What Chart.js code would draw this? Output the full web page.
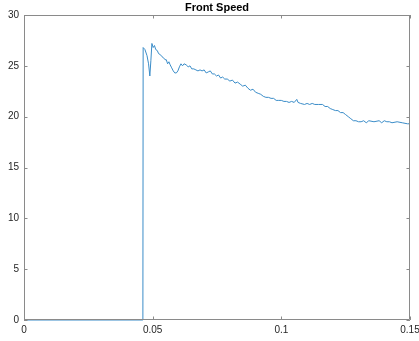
<!DOCTYPE html>
<html>
<head>
<meta charset="utf-8">
<script src="https://cdn.jsdelivr.net/npm/chart.js@4/dist/chart.umd.min.js"></script>
<style>
  html, body { margin: 0; padding: 0; background: #fff; }
  #wrap { width: 419px; height: 341px; }
</style>
</head>
<body>
<div id="wrap"><canvas id="chart" width="419" height="341"></canvas></div>
<script>
// time axis (s)
const timeX = [
  0, 0.0462, 0.0463, 0.0470, 0.0478, 0.0484, 0.0489, 0.0493, 0.0497, 0.0502,
  0.0507, 0.0512, 0.0518, 0.0523, 0.0530, 0.0536, 0.0542, 0.0548, 0.0553, 0.0558,
  0.0563, 0.0568, 0.0574, 0.0580, 0.0586, 0.0592, 0.0598, 0.0604, 0.0610, 0.0616,
  0.0622, 0.0630, 0.0638, 0.0645, 0.0652, 0.0660, 0.0668, 0.0676, 0.0684, 0.0692,
  0.0700, 0.0708, 0.0716, 0.0724, 0.0732, 0.0740, 0.0748, 0.0756, 0.0764, 0.0772,
  0.0780, 0.0790, 0.0800, 0.0810, 0.0820, 0.0830, 0.0840, 0.0850, 0.0860, 0.0870,
  0.0880, 0.0890, 0.0900, 0.0910, 0.0920, 0.0930, 0.0940, 0.0950, 0.0960, 0.0970,
  0.0980, 0.0990, 0.1000, 0.1010, 0.1020, 0.1030, 0.1040, 0.1050, 0.1060, 0.1065,
  0.1075, 0.1090, 0.1100, 0.1110, 0.1120, 0.1130, 0.1145, 0.1160, 0.1170, 0.1180,
  0.1190, 0.1200, 0.1210, 0.1220, 0.1230, 0.1240, 0.1250, 0.1260, 0.1270, 0.1280,
  0.1290, 0.1300, 0.1310, 0.1320, 0.1330, 0.1340, 0.1360, 0.1380, 0.1390, 0.1400,
  0.1410, 0.1420, 0.1430, 0.1450, 0.1470, 0.1490, 0.1500
]
// front speed values
const speedY = [
  0, 0, 26.8, 26.6, 26.0, 25.2, 24.0, 25.5, 27.2, 26.8,
  27.0, 26.6, 26.5, 26.2, 26.1, 25.9, 25.8, 25.6, 25.6, 25.2,
  25.4, 25.1, 24.8, 24.5, 24.3, 24.3, 24.5, 24.9, 25.2, 25.0,
  25.2, 25.1, 24.9, 25.0, 24.7, 24.7, 24.6, 24.5, 24.6, 24.5,
  24.6, 24.3, 24.4, 24.5, 24.2, 24.2, 24.0, 24.1, 23.8, 23.9,
  23.7, 23.7, 23.5, 23.6, 23.3, 23.4, 23.2, 23.0, 23.1, 22.8,
  22.6, 22.7, 22.4, 22.3, 22.2, 22.0, 21.9, 21.9, 21.8, 21.8,
  21.6, 21.6, 21.6, 21.5, 21.5, 21.4, 21.5, 21.4, 21.7, 21.4,
  21.3, 21.2, 21.3, 21.2, 21.3, 21.2, 21.2, 21.2, 21.0, 21.0,
  20.8, 20.7, 20.6, 20.6, 20.4, 20.4, 20.2, 20.0, 19.8, 19.6,
  19.6, 19.5, 19.5, 19.6, 19.4, 19.6, 19.5, 19.6, 19.4, 19.6,
  19.5, 19.5, 19.4, 19.5, 19.4, 19.3, 19.3
]
const xTicks = [0, 0.05, 0.1, 0.15]
const yTicks = [0, 5, 10, 15, 20, 25, 30]

const font = { family: "'Liberation Sans', Arial, Helvetica, sans-serif", size: 10 }
const axisColor = '#8a8a8a'

// box + inward ticks, MATLAB style
const boxTicks = {
  id: 'boxTicks',
  afterDraw(chart) {
    const { ctx, chartArea: a, scales } = chart
    const len = 3.5
    ctx.save()
    ctx.strokeStyle = axisColor
    ctx.lineWidth = 1
    ctx.beginPath()
    ctx.rect(a.left + 0.5, a.top + 0.5, a.right - a.left - 1, a.bottom - a.top - 1)
    xTicks.forEach(v => {
      const px = Math.round(scales.x.getPixelForValue(v)) + 0.5
      ctx.moveTo(px, a.bottom); ctx.lineTo(px, a.bottom - len)
      ctx.moveTo(px, a.top); ctx.lineTo(px, a.top + len)
    })
    yTicks.forEach(v => {
      const py = Math.round(scales.y.getPixelForValue(v)) + 0.5
      ctx.moveTo(a.left, py); ctx.lineTo(a.left + len, py)
      ctx.moveTo(a.right, py); ctx.lineTo(a.right - len, py)
    })
    ctx.stroke()
    ctx.restore()
  }
}

new Chart(document.getElementById('chart'), {
  type: 'line',
  data: {
    datasets: [{
      data: timeX.map((x, i) => ({ x, y: speedY[i] })),
      borderColor: '#3a8cc8',
      borderWidth: 1,
      pointRadius: 0,
      tension: 0,
      fill: false,
      clip: 2
    }]
  },
  options: {
    responsive: false,
    animation: false,
    layout: { padding: { left: 0, right: 9, top: 0, bottom: 0 } },
    scales: {
      x: {
        type: 'linear', min: 0, max: 0.15,
        afterBuildTicks: s => { s.ticks = xTicks.map(v => ({ value: v })) },
        afterFit: s => { s.height = 21; s.paddingLeft = 0; s.paddingRight = 0 },
        grid: { display: false, drawTicks: false },
        border: { display: false },
        ticks: { font, color: '#262626', padding: 4, maxRotation: 0, callback: v => String(v) }
      },
      y: {
        min: 0, max: 30,
        afterBuildTicks: s => { s.ticks = yTicks.map(v => ({ value: v })) },
        afterFit: s => { s.width = 24; s.paddingTop = 0; s.paddingBottom = 0 },
        grid: { display: false, drawTicks: false },
        border: { display: false },
        ticks: { font, color: '#262626', padding: 5 }
      }
    },
    plugins: {
      legend: { display: false },
      tooltip: { enabled: false },
      title: {
        display: true,
        text: 'Front Speed',
        fullSize: false,
        color: '#000',
        font: { family: font.family, size: 11, weight: 'bold', lineHeight: 1.2 },
        padding: { top: 1, bottom: 0.8 }
      }
    }
  },
  plugins: [boxTicks]
})
</script>
</body>
</html>
